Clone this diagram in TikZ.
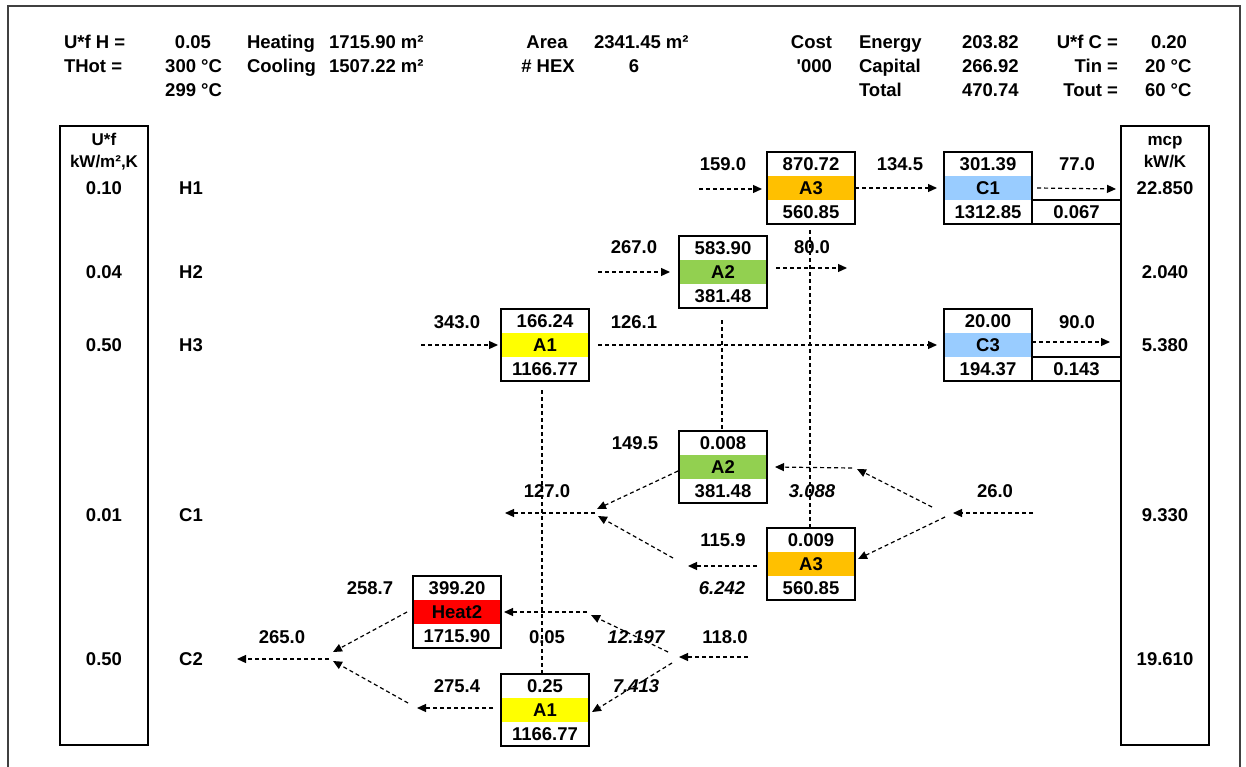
\documentclass[tikz,border=0pt]{standalone}
\usepackage{fontspec}
\setmainfont{Liberation Sans}[Ligatures=TeXOff]
\usetikzlibrary{arrows.meta,calc}
\definecolor{cAone}{HTML}{FFFF00}
\definecolor{cAtwo}{HTML}{92D050}
\definecolor{cAthree}{HTML}{FFC000}
\definecolor{cCool}{HTML}{99CCFF}
\definecolor{cHeat}{HTML}{FF0000}
\definecolor{cFrame}{HTML}{404040}
\tikzset{
  t/.style={font=\bfseries\fontsize{18.5}{20}\selectfont, inner sep=0pt, outer sep=0pt, text height=13.2pt, text depth=0pt},
  ti/.style={t, font=\bfseries\itshape\fontsize{18.5}{20}\selectfont},
  ts/.style={t, font=\bfseries\fontsize{17}{19}\selectfont},
  cell/.style={t, minimum width=88pt, minimum height=24pt},
  box/.style={draw, line width=2pt},
  conn/.style={dash pattern=on 4pt off 3pt, line width=1.2pt, -{Triangle[length=9pt,width=8pt]}},
  link/.style={dash pattern=on 4pt off 3pt, line width=1.2pt},
}
\newcommand\hexchg[7]{%
  \node[cell, fill=#7] (#1) at (#2,#3) {#5};
  \node[cell] (#1t) at (#2,#3-24) {#4};
  \node[cell] (#1b) at (#2,#3+24) {#6};
  \draw[box] (#1t.north west) rectangle (#1b.south east);
}
\begin{document}
\begin{tikzpicture}[x=1pt,y=-1pt]
\useasboundingbox (0,0) rectangle (1246,767);
\clip (0,0) rectangle (1246,767);
\draw[line width=2pt, cFrame] (8,6) rectangle (1240,800);

% header
\node[t, anchor=west] (hUH) at (64,42) {U*f H =};
\node[t] (vUH) at (193,42) {0.05};
\node[t, anchor=west] (hTH) at (64,66) {THot =};
\node[t, anchor=east] (vTH) at (222,66) {300 °C};
\node[t, anchor=east] (vTH2) at (222,90) {299 °C};
\node[t, anchor=west] (hHe) at (247,42) {Heating};
\node[t, anchor=west] (vHe) at (329,42) {1715.90 m²};
\node[t, anchor=west] (hCo) at (247,66) {Cooling};
\node[t, anchor=west] (vCo) at (329,66) {1507.22 m²};
\node[t] (hAr) at (547,42) {Area};
\node[t, anchor=west] (vAr) at (594,42) {2341.45 m²};
\node[t] (hHX) at (548,66) {\# HEX};
\node[t] (vHX) at (634,66) {6};
\node[t, anchor=east] (hCs) at (832,42) {Cost};
\node[t, anchor=east] (hK) at (832,66) {'000};
\node[t, anchor=west] (hEn) at (859,42) {Energy};
\node[t, anchor=west] (hCa) at (859,66) {Capital};
\node[t, anchor=west] (hTo) at (859,90) {Total};
\node[t, anchor=west] (vEn) at (962,42) {203.82};
\node[t, anchor=west] (vCa) at (962,66) {266.92};
\node[t, anchor=west] (vTo) at (962,90) {470.74};
\node[t, anchor=east] (hUC) at (1118,42) {U*f C =};
\node[t, anchor=east] (hTi) at (1118,66) {Tin =};
\node[t, anchor=east] (hTu) at (1118,90) {Tout =};
\node[t] (vUC) at (1169,42) {0.20};
\node[t, anchor=west] (vTi) at (1145,66) {20 °C};
\node[t, anchor=west] (vTu) at (1145,90) {60 °C};

% side columns
\draw[box] (60,126) rectangle (148,745);
\draw[box] (1121,126) rectangle (1209,745);
\node[ts] (lU) at (104,139) {U*f};
\node[ts] (lkW) at (104,161) {kW/m²,K};
\node[t] (l1) at (104,188) {0.10};
\node[t] (l2) at (104,272) {0.04};
\node[t] (l3) at (104,345) {0.50};
\node[t] (l4) at (104,515) {0.01};
\node[t] (l5) at (104,659) {0.50};
\node[t] (sH1) at (191,188) {H1};
\node[t] (sH2) at (191,272) {H2};
\node[t] (sH3) at (191,345) {H3};
\node[t] (sC1) at (191,515) {C1};
\node[t] (sC2) at (191,659) {C2};
\node[ts] (rM) at (1165,139) {mcp};
\node[ts] (rk) at (1165,161) {kW/K};
\node[t] (r1) at (1165,188) {22.850};
\node[t] (r2) at (1165,272) {2.040};
\node[t] (r3) at (1165,345) {5.380};
\node[t] (r4) at (1165,515) {9.330};
\node[t] (r5) at (1165,659) {19.610};

% exchangers
\hexchg{AthH}{811}{188}{870.72}{A3}{560.85}{cAthree}
\hexchg{AtwH}{723}{272}{583.90}{A2}{381.48}{cAtwo}
\hexchg{AonH}{545}{345}{166.24}{A1}{1166.77}{cAone}
\hexchg{CoA}{988}{188}{301.39}{C1}{1312.85}{cCool}
\hexchg{CoB}{988}{345}{20.00}{C3}{194.37}{cCool}
\hexchg{AtwC}{723}{467}{0.008}{A2}{381.48}{cAtwo}
\hexchg{AthC}{811}{564}{0.009}{A3}{560.85}{cAthree}
\hexchg{HtB}{457}{612}{399.20}{Heat2}{1715.90}{cHeat}
\hexchg{AonC}{545}{710}{0.25}{A1}{1166.77}{cAone}
\node[cell, minimum width=89pt] (CoAx) at (1076.5,212) {0.067};
\draw[box] (CoAx.north west) rectangle (CoAx.south east);
\node[cell, minimum width=89pt] (CoBx) at (1076.5,369) {0.143};
\draw[box] (CoBx.north west) rectangle (CoBx.south east);

% vertical links
\coordinate (vA1a) at (542,390);
\coordinate (vA2a) at (722,320);
\coordinate (vA3a) at (810,230);
\draw[link] (vA1a) -- (vA1a |- AonCt.north);
\draw[link] (vA2a) -- (vA2a |- AtwCt.north);
\draw[link] (vA3a) -- (vA3a |- AthCt.north);

% H1
\coordinate (h1in) at (699,189);
\draw[conn] (h1in) -- ([xshift=-5pt]h1in -| AthH.west);
\draw[conn] (AthH.east) -- ([xshift=-7pt]AthH.east -| CoA.west);
\coordinate (h1out) at (1116,189);
\draw[conn] ([xshift=5pt]CoA.east) -- (h1out);
% H2
\coordinate (h2in) at (598,272);
\draw[conn] (h2in) -- ([xshift=-9pt]AtwH.west);
\coordinate (h2o) at (776,268);
\coordinate (h2out) at (847,268);
\draw[conn] (h2o) -- (h2out);
% H3
\coordinate (h3in) at (421,345);
\draw[conn] (h3in) -- ([xshift=-3pt]AonH.west);
\draw[conn] ([xshift=9pt]AonH.east) -- ([xshift=-7pt]CoB.west);
\coordinate (h3out) at (1110,342);
\draw[conn] ([yshift=3pt]CoB.east) -- (h3out);

% C1
\coordinate (c1in) at (1033,513);
\coordinate (c1s) at (953,513);
\coordinate (c1u) at (932,507);
\coordinate (c1l) at (945,517);
\coordinate (c1j) at (857,469);
\coordinate (c1jb) at (852,468);
\draw[conn] (c1in) -- (c1s);
\draw[conn] (c1u) -- (c1j);
\draw[conn] (c1jb) -- ([xshift=8pt]AtwC.east);
\draw[conn] (c1l) -- ([shift={(3,-5)}]AthC.east);
\coordinate (c1m) at (597,509);
\coordinate (c1m2) at (598,516);
\coordinate (c1mo) at (595,513);
\coordinate (c1out) at (505,513);
\coordinate (a3cl) at (688,566);
\coordinate (a3cd) at (673,558);
\draw[conn] ([shift={(-1,4)}]AtwC.west) -- (c1m);
\draw[conn] ([shift={(-10,2)}]AthC.west) -- (a3cl);
\draw[conn] (a3cd) -- (c1m2);
\draw[conn] (c1mo) -- (c1out);

% C2
\coordinate (c2in) at (748,657);
\coordinate (c2s) at (679,657);
\coordinate (c2u) at (668,652);
\coordinate (c2l) at (672,663);
\coordinate (c2j) at (591,615);
\coordinate (c2jb) at (587,612);
\draw[conn] (c2in) -- (c2s);
\draw[conn] (c2u) -- (c2j);
\draw[conn] (c2jb) -- ([xshift=3pt]HtB.east);
\draw[conn] (c2l) -- ([shift={(3,2)}]AonC.east);
\coordinate (c2m) at (333,652);
\coordinate (c2m2) at (333,661);
\coordinate (c2mo) at (329,659);
\coordinate (c2out) at (237,659);
\coordinate (a1cl) at (417,708);
\coordinate (a1cd) at (408,703);
\draw[conn] ([xshift=-6pt]HtB.west) -- (c2m);
\draw[conn] ([shift={(-8,-2)}]AonC.west) -- (a1cl);
\draw[conn] (a1cd) -- (c2m2);
\draw[conn] (c2mo) -- (c2out);

% stream labels
\node[t] (q1) at (723,164) {159.0};
\node[t] (q2) at (900,164) {134.5};
\node[t] (q3) at (1077,164) {77.0};
\node[t] (q4) at (634,247) {267.0};
\node[t] (q5) at (812,247) {80.0};
\node[t] (q6) at (457,322) {343.0};
\node[t] (q7) at (634,322) {126.1};
\node[t] (q8) at (1077,322) {90.0};
\node[t] (q9) at (635,443) {149.5};
\node[t] (q10) at (547,491) {127.0};
\node[ti] (q11) at (812,491) {3.088};
\node[t] (q12) at (995,491) {26.0};
\node[t] (q13) at (723,540) {115.9};
\node[ti] (q14) at (722,588) {6.242};
\node[t] (q15) at (370,588) {258.7};
\node[t] (q16) at (282,637) {265.0};
\node[t] (q17) at (547,637) {0.05};
\node[ti] (q18) at (636,637) {12.197};
\node[t] (q19) at (725,637) {118.0};
\node[t] (q20) at (457,686) {275.4};
\node[ti] (q21) at (636,686) {7.413};
\end{tikzpicture}
\end{document}
